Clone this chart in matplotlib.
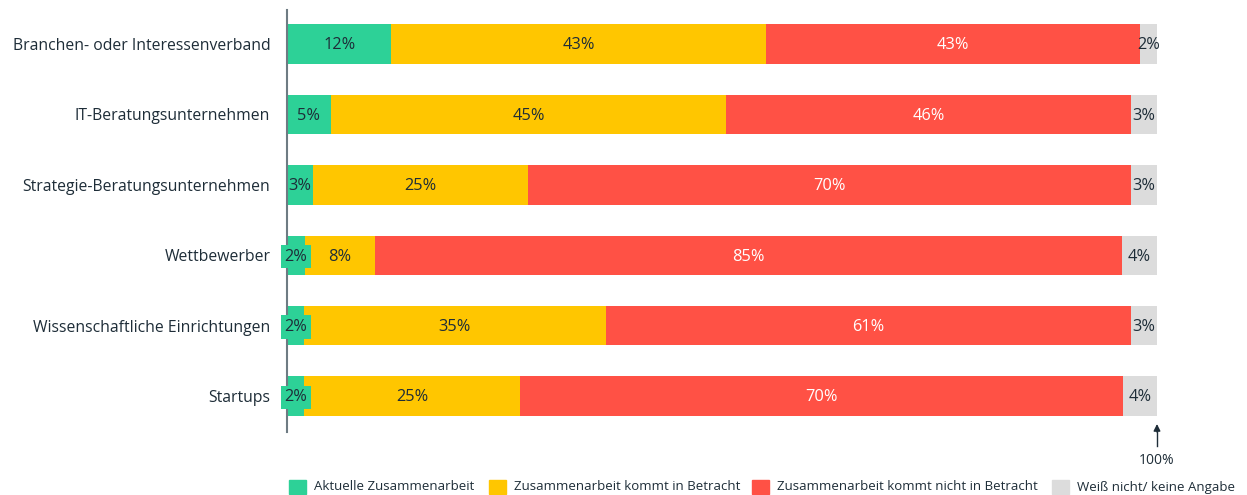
import matplotlib
matplotlib.use("Agg")
import matplotlib.pyplot as plt
from matplotlib.patches import Rectangle
import numpy as np

plt.rcParams['font.family'] = ['Open Sans', 'DejaVu Sans']

categories = [
    "Branchen- oder Interessenverband",
    "IT-Beratungsunternehmen",
    "Strategie-Beratungsunternehmen",
    "Wettbewerber",
    "Wissenschaftliche Einrichtungen",
    "Startups",
]
aktuell = [12, 5, 3, 2, 2, 2]
in_betracht = [43, 45, 25, 8, 35, 25]
nicht_in_betracht = [43, 46, 70, 85, 61, 70]
weiss_nicht = [2, 3, 3, 4, 3, 4]

series_names = [
    "Aktuelle Zusammenarbeit",
    "Zusammenarbeit kommt in Betracht",
    "Zusammenarbeit kommt nicht in Betracht",
    "Weiß nicht/ keine Angabe",
]
colors = ["#2dd197", "#ffc600", "#ff5145", "#dcdcdc"]
text_colors = ["#1e2d38", "#1e2d38", "white", "#1e2d38"]
dark = "#1e2d38"

values = np.array([aktuell, in_betracht, nicht_in_betracht, weiss_nicht], dtype=float)
# bars are scaled to 100% per row
scaled = values / values.sum(axis=0) * 100

fig = plt.figure(figsize=(12.47, 4.95), dpi=100)
ax = fig.add_axes([287 / 1247, 1 - 432 / 495, 870 / 1247, 422 / 495])

y = np.arange(len(categories))
left = np.zeros(len(categories))
for i in range(4):
    ax.barh(y, scaled[i], left=left, height=0.56, color=colors[i], linewidth=0)
    for j in range(len(categories)):
        cx = left[j] + scaled[i][j] / 2
        label = f"{int(values[i][j])}%"
        if i == 0 and values[i][j] <= 2:
            # small segments: label sits on a green box wider than the bar
            ax.text(cx, y[j] + 0.02, label, ha='center', va='center', fontsize=11.8,
                    color=text_colors[i],
                    bbox=dict(boxstyle='square,pad=0.22', fc=colors[i], ec='none'))
        else:
            ax.text(cx, y[j] + 0.02, label, ha='center', va='center', fontsize=11.8,
                    color=text_colors[i])
    left += scaled[i]

ax.set_xlim(0, 100)
ax.set_ylim(5.51, -0.483)
ax.set_yticks(y)
ax.set_yticklabels(categories, fontsize=11.3, color=dark)
ax.tick_params(axis='y', length=0, pad=12)
ax.set_xticks([])
for s in ['top', 'right', 'bottom']:
    ax.spines[s].set_visible(False)
ax.spines['left'].set_color("#6e7b83")
ax.spines['left'].set_linewidth(1.5)

# 100% marker
fig.add_artist(plt.Line2D([1157 / 1247] * 2, [1 - 446 / 495, 1 - 430 / 495], color=dark, lw=1))
ax.annotate("", xy=(1157 / 1247, 1 - 424 / 495), xytext=(1157 / 1247, 1 - 432 / 495),
            xycoords='figure fraction', textcoords='figure fraction',
            arrowprops=dict(arrowstyle='-|>', color=dark, lw=1, mutation_scale=10,
                            shrinkA=0, shrinkB=0),
            annotation_clip=False)
fig.text(1157 / 1247, 1 - 461 / 495, "100%", ha='center', va='center', fontsize=10, color=dark)

# legend
leg_x = [289, 489, 752, 1052]
for i, name in enumerate(series_names):
    fig.patches.append(Rectangle((leg_x[i] / 1247, 1 - 494 / 495), 17 / 1247, 14 / 495,
                                 transform=fig.transFigure, color=colors[i]))
    fig.text((leg_x[i] + 25) / 1247, 1 - 487 / 495, name, ha='left', va='center',
             fontsize=9.5, color=dark)

fig.savefig("out.png", dpi=100)
